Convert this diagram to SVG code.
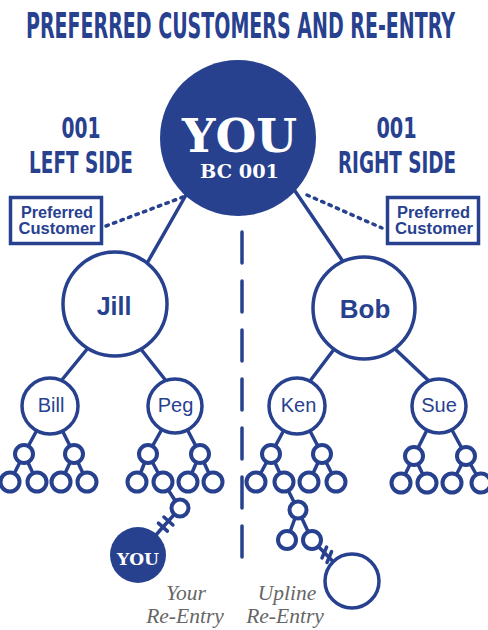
<svg xmlns="http://www.w3.org/2000/svg" width="488" height="630" viewBox="0 0 488 630">
<style>
.ln{stroke:#27418f;stroke-width:3.5;stroke-linecap:round;fill:none}
.big{stroke:#27418f;stroke-width:3.5;fill:#fff}
.sm{stroke:#27418f;stroke-width:4;fill:#fff}
.cond{font-family:"DejaVu Sans Condensed","DejaVu Sans",sans-serif;font-weight:bold;fill:#27418f}
.slab{font-family:"DejaVu Serif",serif;font-weight:bold;fill:#fff}
.goth{font-family:"Liberation Sans",Arial,sans-serif;fill:#27418f}
.it{font-family:"Liberation Serif","Times New Roman",serif;font-style:italic;fill:#666;font-size:21.5px}
</style>
<rect width="488" height="630" fill="#fff"/>
<text class="cond" transform="translate(240.5,38) scale(0.6,1)" x="0" y="0" font-size="35" text-anchor="middle" textLength="715" lengthAdjust="spacingAndGlyphs">PREFERRED CUSTOMERS AND RE-ENTRY</text>
<g id="labels">
<text class="cond" transform="translate(81,138) scale(0.6,1)" font-size="28" text-anchor="middle" textLength="65" lengthAdjust="spacingAndGlyphs">001</text>
<text class="cond" transform="translate(81,172.5) scale(0.6,1)" font-size="30" text-anchor="middle" textLength="173" lengthAdjust="spacingAndGlyphs">LEFT SIDE</text>
<text class="cond" transform="translate(396.5,138) scale(0.6,1)" font-size="28" text-anchor="middle" textLength="67" lengthAdjust="spacingAndGlyphs">001</text>
<text class="cond" transform="translate(397,172.5) scale(0.6,1)" font-size="30" text-anchor="middle" textLength="197" lengthAdjust="spacingAndGlyphs">RIGHT SIDE</text>
</g>
<g id="connectors">
<line class="ln" x1="106" y1="226" x2="183" y2="197" stroke-width="3" stroke-dasharray="2.5 5.5" stroke-linecap="butt"/>
<line class="ln" x1="307" y1="195" x2="382" y2="228" stroke-width="3" stroke-dasharray="2.5 5.5" stroke-linecap="butt"/>
<line class="ln" x1="242" y1="232" x2="242" y2="558" stroke-dasharray="31 18" stroke-linecap="butt"/>
<line class="ln" x1="190" y1="188" x2="146" y2="265"/>
<line class="ln" x1="293" y1="188" x2="344" y2="263"/>
<line class="ln" x1="88" y1="348" x2="61" y2="381"/>
<line class="ln" x1="140" y1="348" x2="167" y2="382"/>
<line class="ln" x1="335" y1="348" x2="310" y2="381"/>
<line class="ln" x1="394" y1="348" x2="430" y2="382"/>
<line class="ln" x1="50" y1="406" x2="24" y2="454"/>
<line class="ln" x1="50" y1="406" x2="74" y2="454"/>
<line class="ln" x1="175" y1="406" x2="148" y2="454"/>
<line class="ln" x1="175" y1="406" x2="200" y2="454"/>
<line class="ln" x1="297" y1="406" x2="271" y2="454"/>
<line class="ln" x1="297" y1="406" x2="322" y2="454"/>
<line class="ln" x1="439" y1="406" x2="414" y2="456"/>
<line class="ln" x1="439" y1="406" x2="466" y2="456"/>
<line class="ln" x1="24" y1="454" x2="10" y2="482"/>
<line class="ln" x1="24" y1="454" x2="37" y2="482"/>
<line class="ln" x1="74" y1="454" x2="61" y2="482"/>
<line class="ln" x1="74" y1="454" x2="87" y2="482"/>
<line class="ln" x1="148" y1="454" x2="137" y2="482"/>
<line class="ln" x1="148" y1="454" x2="163" y2="482"/>
<line class="ln" x1="200" y1="454" x2="188" y2="482"/>
<line class="ln" x1="200" y1="454" x2="213" y2="482"/>
<line class="ln" x1="271" y1="454" x2="256" y2="482"/>
<line class="ln" x1="271" y1="454" x2="284" y2="482"/>
<line class="ln" x1="322" y1="454" x2="309" y2="482"/>
<line class="ln" x1="322" y1="454" x2="336" y2="482"/>
<line class="ln" x1="414" y1="456" x2="401" y2="483"/>
<line class="ln" x1="414" y1="456" x2="427" y2="483"/>
<line class="ln" x1="466" y1="456" x2="452" y2="483"/>
<line class="ln" x1="466" y1="456" x2="481" y2="483"/>
<line class="ln" x1="163" y1="482" x2="180" y2="508"/>
<line class="ln" x1="180" y1="508" x2="138" y2="555"/>
<line class="ln" x1="163.9" y1="517" x2="172.9" y2="525"/>
<line class="ln" x1="158.4" y1="523.1" x2="167.4" y2="531.1"/>
<line class="ln" x1="284" y1="482" x2="298" y2="510"/>
<line class="ln" x1="298" y1="510" x2="287" y2="540"/>
<line class="ln" x1="298" y1="510" x2="312" y2="540"/>
<line class="ln" x1="312" y1="540" x2="352" y2="581"/>
<line class="ln" x1="322" y1="558" x2="326.6" y2="547"/>
<line class="ln" x1="327" y1="562.5" x2="331.6" y2="551.5"/>
</g>
<g id="pc-left">
<rect x="10.5" y="197.5" width="91" height="46" fill="#fff" stroke="#27418f" stroke-width="3.5"/>
<text class="goth" x="57" y="218" font-size="16" font-weight="bold" text-anchor="middle" textLength="72" lengthAdjust="spacingAndGlyphs">Preferred</text>
<text class="goth" x="57" y="234" font-size="16" font-weight="bold" text-anchor="middle" textLength="77" lengthAdjust="spacingAndGlyphs">Customer</text>
</g>
<g id="pc-right">
<rect x="387.5" y="197.5" width="91" height="46" fill="#fff" stroke="#27418f" stroke-width="3.5"/>
<text class="goth" x="433.5" y="218" font-size="16" font-weight="bold" text-anchor="middle" textLength="73" lengthAdjust="spacingAndGlyphs">Preferred</text>
<text class="goth" x="434" y="234" font-size="16" font-weight="bold" text-anchor="middle" textLength="78" lengthAdjust="spacingAndGlyphs">Customer</text>
</g>
<g id="you">
<circle cx="238" cy="138" r="78" fill="#27418f"/>
<text class="slab" x="239.5" y="152" font-size="46" text-anchor="middle" textLength="115" lengthAdjust="spacingAndGlyphs">YOU</text>
<text class="slab" x="239.5" y="178" font-size="18" text-anchor="middle" textLength="79" lengthAdjust="spacingAndGlyphs">BC 001</text>
</g>
<g id="jill">
<circle class="big" cx="115" cy="304" r="52"/>
<text class="goth" x="114" y="315" font-size="25" font-weight="bold" text-anchor="middle">Jill</text>
</g>
<g id="bob">
<circle class="big" cx="364" cy="308" r="51"/>
<text class="goth" x="365" y="318" font-size="26" font-weight="bold" text-anchor="middle">Bob</text>
</g>
<g id="bill">
<circle class="big" cx="50" cy="406" r="28"/>
<text class="goth" x="51" y="412" font-size="20" text-anchor="middle">Bill</text>
</g>
<g id="peg">
<circle class="big" cx="175" cy="406" r="27"/>
<text class="goth" x="175.5" y="412" font-size="20" text-anchor="middle">Peg</text>
</g>
<g id="ken">
<circle class="big" cx="297" cy="406" r="28"/>
<text class="goth" x="298.5" y="412" font-size="20" text-anchor="middle">Ken</text>
</g>
<g id="sue">
<circle class="big" cx="439" cy="406" r="27"/>
<text class="goth" x="439" y="412" font-size="20" text-anchor="middle">Sue</text>
</g>
<g id="downline">
<circle class="sm" cx="24" cy="454" r="9"/>
<circle class="sm" cx="74" cy="454" r="9"/>
<circle class="sm" cx="148" cy="454" r="9"/>
<circle class="sm" cx="200" cy="454" r="9"/>
<circle class="sm" cx="271" cy="454" r="9"/>
<circle class="sm" cx="322" cy="454" r="9"/>
<circle class="sm" cx="414" cy="456" r="9"/>
<circle class="sm" cx="466" cy="456" r="9"/>
<circle class="sm" cx="10" cy="482" r="9.5"/>
<circle class="sm" cx="37" cy="482" r="9.5"/>
<circle class="sm" cx="61" cy="482" r="9.5"/>
<circle class="sm" cx="87" cy="482" r="9.5"/>
<circle class="sm" cx="137" cy="482" r="9.5"/>
<circle class="sm" cx="163" cy="482" r="9.5"/>
<circle class="sm" cx="188" cy="482" r="9.5"/>
<circle class="sm" cx="213" cy="482" r="9.5"/>
<circle class="sm" cx="256" cy="482" r="9.5"/>
<circle class="sm" cx="284" cy="482" r="9.5"/>
<circle class="sm" cx="309" cy="482" r="9.5"/>
<circle class="sm" cx="336" cy="482" r="9.5"/>
<circle class="sm" cx="401" cy="483" r="9.5"/>
<circle class="sm" cx="427" cy="483" r="9.5"/>
<circle class="sm" cx="452" cy="483" r="9.5"/>
<circle class="sm" cx="481" cy="483" r="9.5"/>
<circle class="sm" cx="180" cy="508" r="8.5"/>
<circle class="sm" cx="298" cy="510" r="8.5"/>
<circle class="sm" cx="287" cy="540" r="9"/>
<circle class="sm" cx="312" cy="540" r="9"/>
</g>
<g id="your-reentry">
<circle cx="138" cy="555" r="28" fill="#27418f"/>
<text class="slab" x="138" y="565" font-size="17" text-anchor="middle" textLength="42" lengthAdjust="spacingAndGlyphs">YOU</text>
<text class="it" x="186" y="600" text-anchor="middle">Your</text>
<text class="it" x="185" y="623" text-anchor="middle">Re-Entry</text>
</g>
<g id="upline-reentry">
<circle class="big" cx="352" cy="581" r="27"/>
<text class="it" x="287" y="600" text-anchor="middle">Upline</text>
<text class="it" x="285" y="623" text-anchor="middle">Re-Entry</text>
</g>
</svg>
